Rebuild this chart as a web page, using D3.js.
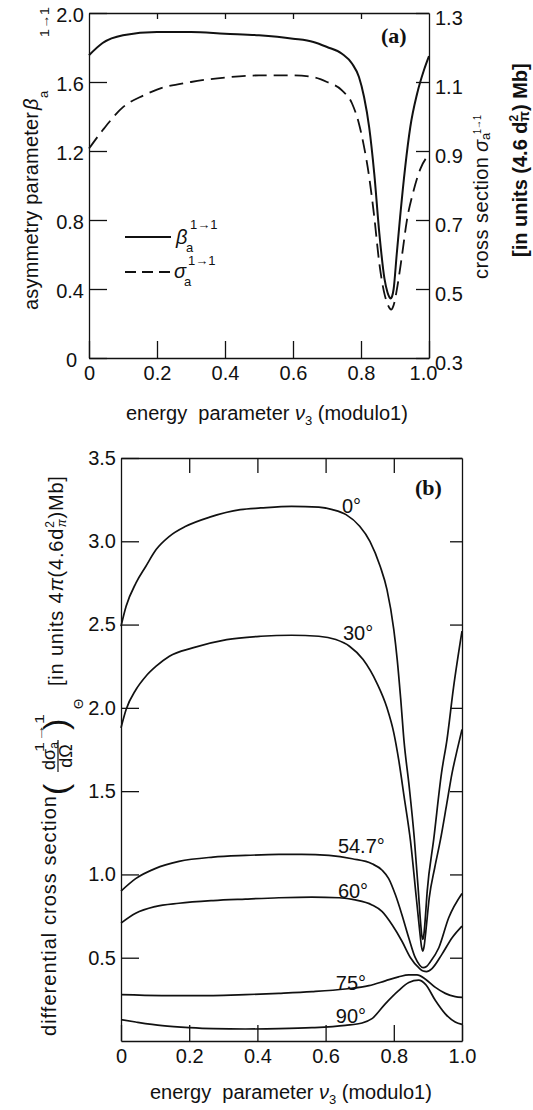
<!DOCTYPE html>
<html><head><meta charset="utf-8">
<script src="https://cdn.jsdelivr.net/npm/d3@7"></script>
<style>
body{margin:0;background:#fff;}
svg{display:block;}
text{fill:#111;}
</style></head><body>
<svg id="chart" width="533" height="1110"></svg>
<script>
// ---------- Panel (a) data ----------
const aTicksX = [0, 0.2, 0.4, 0.6, 0.8, 1.0];
const aTickLabelsX = ["0", "0.2", "0.4", "0.6", "0.8", "1.0"];
const aTicksBeta = [0, 0.4, 0.8, 1.2, 1.6, 2.0];
const aTickLabelsBeta = ["0", "0.4", "0.8", "1.2", "1.6", "2.0"];
const aTicksSigma = [0.3, 0.5, 0.7, 0.9, 1.1, 1.3];
const aTickLabelsSigma = ["0.3", "0.5", "0.7", "0.9", "1.1", "1.3"];

const betaNu  = [0, 0.04, 0.10, 0.20, 0.30, 0.40, 0.50, 0.60, 0.66, 0.70, 0.744, 0.774, 0.794, 0.809, 0.824, 0.839, 0.854, 0.869, 0.878, 0.883, 0.887, 0.891, 0.896, 0.905, 0.915, 0.930, 0.945, 0.965, 0.985, 1.0];
const betaVal = [1.755, 1.826, 1.871, 1.890, 1.890, 1.880, 1.871, 1.851, 1.832, 1.803, 1.764, 1.706, 1.629, 1.513, 1.339, 1.069, 0.721, 0.46, 0.38, 0.355, 0.345, 0.355, 0.40, 0.60, 0.817, 1.107, 1.339, 1.532, 1.668, 1.75];

const sigmaNu  = [0, 0.04, 0.10, 0.16, 0.20, 0.30, 0.40, 0.50, 0.60, 0.66, 0.70, 0.744, 0.774, 0.794, 0.809, 0.824, 0.839, 0.854, 0.869, 0.880, 0.885, 0.889, 0.893, 0.898, 0.905, 0.92, 0.935, 0.955, 0.975, 1.0];
const sigmaVal = [0.907, 0.96, 1.027, 1.061, 1.078, 1.100, 1.113, 1.119, 1.119, 1.114, 1.100, 1.076, 1.037, 0.979, 0.912, 0.825, 0.709, 0.573, 0.486, 0.452, 0.443, 0.44, 0.445, 0.46, 0.496, 0.593, 0.699, 0.786, 0.849, 0.89];

// ---------- Panel (b) data ----------
const bTicksX = [0, 0.2, 0.4, 0.6, 0.8, 1.0];
const bTickLabelsX = ["0", "0.2", "0.4", "0.6", "0.8", "1.0"];
const bTicksY = [0.5, 1.0, 1.5, 2.0, 2.5, 3.0, 3.5];
const bTickLabelsY = ["0.5", "1.0", "1.5", "2.0", "2.5", "3.0", "3.5"];
const angleLabels = ["0°", "30°", "54.7°", "60°", "75°", "90°"];

const nu0  = [0, 0.015, 0.044, 0.073, 0.103, 0.142, 0.19, 0.26, 0.35, 0.41, 0.50, 0.58, 0.62, 0.66, 0.70, 0.73, 0.76, 0.78, 0.80, 0.81, 0.82, 0.83, 0.845, 0.86, 0.872, 0.879, 0.882, 0.885, 0.888, 0.891, 0.898, 0.917, 0.94, 0.956, 0.975, 1.0];
const dcs0 = [2.49, 2.61, 2.75, 2.85, 2.95, 3.03, 3.09, 3.145, 3.19, 3.20, 3.21, 3.205, 3.19, 3.16, 3.09, 3.00, 2.85, 2.71, 2.47, 2.29, 2.06, 1.80, 1.53, 1.22, 0.90, 0.70, 0.635, 0.61, 0.635, 0.70, 0.90, 1.21, 1.61, 1.81, 2.12, 2.46];

const nu30  = [0, 0.015, 0.044, 0.073, 0.103, 0.142, 0.21, 0.31, 0.41, 0.50, 0.58, 0.63, 0.67, 0.71, 0.75, 0.78, 0.80, 0.815, 0.83, 0.849, 0.866, 0.876, 0.881, 0.885, 0.889, 0.894, 0.904, 0.92, 0.937, 0.955, 0.971, 0.985, 1.0];
const dcs30 = [1.88, 1.99, 2.11, 2.19, 2.25, 2.31, 2.36, 2.41, 2.43, 2.436, 2.43, 2.41, 2.37, 2.29, 2.15, 2.0, 1.85, 1.68, 1.47, 1.2, 0.86, 0.66, 0.57, 0.54, 0.57, 0.66, 0.86, 1.04, 1.21, 1.42, 1.61, 1.74, 1.87];

const nu547  = [0, 0.043, 0.10, 0.17, 0.27, 0.365, 0.463, 0.53, 0.61, 0.678, 0.736, 0.766, 0.785, 0.805, 0.824, 0.844, 0.863, 0.876, 0.886, 0.896, 0.907, 0.932, 0.961, 1.0];
const dcs547 = [0.90, 0.975, 1.035, 1.078, 1.104, 1.114, 1.12, 1.12, 1.114, 1.094, 1.064, 1.025, 0.975, 0.876, 0.757, 0.619, 0.50, 0.455, 0.44, 0.447, 0.475, 0.56, 0.74, 0.886];

const nu60  = [0, 0.043, 0.10, 0.17, 0.27, 0.365, 0.463, 0.56, 0.64, 0.687, 0.736, 0.766, 0.795, 0.824, 0.849, 0.873, 0.886, 0.896, 0.912, 0.941, 0.971, 1.0];
const dcs60 = [0.708, 0.767, 0.807, 0.827, 0.843, 0.852, 0.86, 0.864, 0.86, 0.847, 0.817, 0.777, 0.698, 0.599, 0.50, 0.44, 0.42, 0.417, 0.435, 0.52, 0.62, 0.69];

const nu75  = [0, 0.12, 0.27, 0.365, 0.463, 0.56, 0.658, 0.727, 0.775, 0.814, 0.844, 0.868, 0.893, 0.922, 0.951, 0.98, 1.0];
const dcs75 = [0.278, 0.273, 0.273, 0.278, 0.286, 0.296, 0.312, 0.332, 0.361, 0.385, 0.397, 0.397, 0.371, 0.322, 0.286, 0.266, 0.262];

const nu90  = [0, 0.043, 0.121, 0.2, 0.27, 0.365, 0.463, 0.56, 0.658, 0.707, 0.736, 0.775, 0.814, 0.844, 0.873, 0.893, 0.922, 0.951, 0.98, 1.0];
const dcs90 = [0.128, 0.114, 0.092, 0.080, 0.074, 0.072, 0.074, 0.08, 0.094, 0.108, 0.134, 0.223, 0.302, 0.351, 0.365, 0.34, 0.243, 0.163, 0.114, 0.10];

// ---------- drawing ----------
const FONT = '"Liberation Sans", Arial, "DejaVu Sans", sans-serif';
const SERIF = '"Liberation Serif", "Times New Roman", serif';
const INK = "#111";
const svg = d3.select("#chart").attr("font-family", FONT);
svg.append("rect").attr("width", 533).attr("height", 1110).attr("fill", "#fff");

function styleAxis(g) {
  g.attr("font-family", FONT).attr("font-size", 20);
  g.selectAll("line,path").attr("stroke", INK).attr("stroke-width", 1.3);
  g.selectAll("text").attr("fill", INK);
}

function addText(x, y, parts, opt = {}) {
  const t = svg.append("text")
    .attr("transform", opt.rot ? `translate(${x},${y}) rotate(-90)` : `translate(${x},${y})`)
    .attr("font-size", opt.size || 20)
    .attr("text-anchor", opt.anchor || "start")
    .style("white-space", "pre");
  if (opt.weight) t.attr("font-weight", opt.weight);
  if (opt.family) t.attr("font-family", opt.family);
  if (opt.italic) t.attr("font-style", "italic");
  if (opt.spacing) t.attr("letter-spacing", opt.spacing);
  if (opt.len) t.attr("textLength", opt.len).attr("lengthAdjust", opt.adjust || "spacing");
  if (typeof parts === "string") parts = [{ t: parts }];
  parts.forEach(p => {
    const s = t.append("tspan").text(p.t);
    if (p.size) s.attr("font-size", p.size);
    if (p.dx != null) s.attr("dx", p.dx);
    if (p.dy != null) s.attr("dy", p.dy);
    if (p.italic) s.attr("font-style", "italic");
    if (p.weight) s.attr("font-weight", p.weight);
  });
  return t;
}

// ===== Panel (a) =====
const xA = d3.scaleLinear().domain([0, 1]).range([89, 429]);
const yA = d3.scaleLinear().domain([0, 2]).range([358, 13]);
const yA2 = d3.scaleLinear().domain([0.3, 1.3]).range([358, 13]);

const axA_b = svg.append("g").attr("transform", "translate(0,358)")
  .call(d3.axisBottom(xA).tickValues(aTicksX).tickFormat((d, i) => aTickLabelsX[i])
    .tickSize(-17).tickSizeOuter(0).tickPadding(8)).call(styleAxis);
axA_b.selectAll(".tick text").filter((d, i) => i === aTicksX.length - 1).attr("dx", -6);

svg.append("g").attr("transform", "translate(0,13)")
  .call(d3.axisTop(xA).tickValues([0.2, 0.4, 0.6, 0.8]).tickFormat("")
    .tickSize(-6).tickSizeOuter(0)).call(styleAxis);

const axA_l = svg.append("g").attr("transform", "translate(89,0)")
  .call(d3.axisLeft(yA).tickValues(aTicksBeta).tickFormat((d, i) => aTickLabelsBeta[i])
    .tickSize(-18).tickSizeOuter(0).tickPadding(5)).call(styleAxis);
axA_l.selectAll(".tick text").attr("y", 2);
axA_l.selectAll(".tick text").filter((d, i) => i === 0).attr("dx", -7);

const axA_r = svg.append("g").attr("transform", "translate(429,0)")
  .call(d3.axisRight(yA2).tickValues(aTicksSigma).tickFormat((d, i) => aTickLabelsSigma[i])
    .tickSize(-13).tickSizeOuter(0).tickPadding(6)).call(styleAxis);
axA_r.selectAll(".tick text").attr("y", 5);

const lineBeta = d3.line().x(d => xA(d[0])).y(d => yA(d[1])).curve(d3.curveMonotoneX);
const lineSigma = d3.line().x(d => xA(d[0])).y(d => yA2(d[1])).curve(d3.curveMonotoneX);

svg.append("path").datum(d3.zip(betaNu, betaVal)).attr("d", lineBeta)
  .attr("fill", "none").attr("stroke", INK).attr("stroke-width", 2);
svg.append("path").datum(d3.zip(sigmaNu, sigmaVal)).attr("d", lineSigma)
  .attr("fill", "none").attr("stroke", INK).attr("stroke-width", 1.8)
  .attr("stroke-dasharray", "14,7");

// legend
svg.append("line").attr("x1", 125).attr("x2", 171).attr("y1", 237).attr("y2", 237)
  .attr("stroke", INK).attr("stroke-width", 2);
svg.append("line").attr("x1", 125).attr("x2", 171).attr("y1", 272).attr("y2", 272)
  .attr("stroke", INK).attr("stroke-width", 1.8).attr("stroke-dasharray", "11,6");
addText(176, 244, "β", { italic: true });
addText(186, 252, "a", { size: 13 });
addText(190, 229, "1→1", { size: 13 });
addText(174, 278, "σ", { italic: true });
addText(184, 286, "a", { size: 13 });
addText(188, 265, "1→1", { size: 13 });

addText(381, 43, "(a)", { family: SERIF, weight: "bold", size: 22 });

// axis titles (a)
addText(126, 420, [{ t: "energy  parameter " }, { t: "ν", italic: true }, { t: "3", size: 13, dy: 5 }, { t: " (modulo1)", dy: -5 }]);
addText(38, 310, "asymmetry parameter", { rot: true, len: 198 });
addText(38, 110, "β", { rot: true, italic: true });
addText(48, 98, "a", { rot: true, size: 13 });
addText(49, 37, "1→1", { rot: true, size: 13, len: 30, adjust: "spacingAndGlyphs" });

addText(488, 279, "cross section", { rot: true, len: 122 });
addText(488, 152, "σ", { rot: true, italic: true });
addText(490, 140, "a", { rot: true, size: 13 });
addText(481, 134, "1→1", { rot: true, size: 11, len: 19, adjust: "spacingAndGlyphs" });
addText(527, 257, [{ t: "[in units (4.6 d" }, { t: "2", size: 12, dy: -9 }, { t: "π", size: 14, dx: -7, dy: 11 }, { t: ") Mb]", dy: -2 }],
  { rot: true, weight: "bold" });

// ===== Panel (b) =====
const xB = d3.scaleLinear().domain([0, 1]).range([121, 462]);
const yB = d3.scaleLinear().domain([0, 3.5]).range([1041, 458]);

svg.append("g").attr("transform", "translate(0,1041)")
  .call(d3.axisBottom(xB).tickValues(bTicksX).tickFormat((d, i) => bTickLabelsX[i])
    .tickSize(-16).tickSizeOuter(0).tickPadding(8)).call(styleAxis);
svg.append("g").attr("transform", "translate(0,458)")
  .call(d3.axisTop(xB).tickValues([0.2, 0.4, 0.6, 0.8]).tickFormat("")
    .tickSize(-15).tickSizeOuter(0)).call(styleAxis);
svg.append("g").attr("transform", "translate(121,0)")
  .call(d3.axisLeft(yB).tickValues(bTicksY).tickFormat((d, i) => bTickLabelsY[i])
    .tickSize(-18).tickSizeOuter(0).tickPadding(5)).call(styleAxis);
svg.append("g").attr("transform", "translate(462,0)")
  .call(d3.axisRight(yB).tickValues(bTicksY).tickFormat("")
    .tickSize(-12).tickSizeOuter(0)).call(styleAxis);

const lineB = d3.line().x(d => xB(d[0])).y(d => yB(d[1])).curve(d3.curveMonotoneX);
const bSeries = [[nu0, dcs0], [nu30, dcs30], [nu547, dcs547], [nu60, dcs60], [nu75, dcs75], [nu90, dcs90]];
bSeries.forEach(s => {
  svg.append("path").datum(d3.zip(s[0], s[1])).attr("d", lineB)
    .attr("fill", "none").attr("stroke", INK).attr("stroke-width", 1.7);
});

// curve labels (anchored in data space)
const labelAnchors = [[0.648, 3.17], [0.651, 2.407], [0.636, 1.128], [0.636, 0.858], [0.630, 0.306], [0.630, 0.108]];
angleLabels.forEach((lab, i) => {
  addText(xB(labelAnchors[i][0]), yB(labelAnchors[i][1]), lab);
});

addText(415, 495, "(b)", { family: SERIF, weight: "bold", size: 22 });

// axis titles (b)
addText(150, 1099, [{ t: "energy  parameter " }, { t: "ν", italic: true }, { t: "3", size: 13, dy: 5 }, { t: " (modulo1)", dy: -5 }]);
addText(56, 1036, "differential cross section", { rot: true, len: 240 });
addText(67, 795, "(", { rot: true, size: 34 });
addText(55, 756, [{ t: "dσ" }, { t: "a", size: 12, dy: 3 }], { rot: true, size: 18, anchor: "middle" });
svg.append("line").attr("x1", 58).attr("x2", 58).attr("y1", 740).attr("y2", 772)
  .attr("stroke", INK).attr("stroke-width", 1.2);
addText(72, 756, "dΩ", { rot: true, size: 18, anchor: "middle" });
addText(67, 730, ")", { rot: true, size: 34 });
addText(44, 752, "1→1", { rot: true, size: 13, len: 38, adjust: "spacingAndGlyphs" });
addText(83, 709, "Θ", { rot: true, size: 13 });
addText(63, 686, [{ t: "[in units 4" }, { t: "π", italic: true }, { t: "(4.6d" }, { t: "2", size: 12, dy: -9 },
  { t: "π", size: 12, dx: -7, dy: 12, italic: true }, { t: ")Mb]", dy: -3 }], { rot: true, spacing: 0.8 });
</script>
</body></html>
